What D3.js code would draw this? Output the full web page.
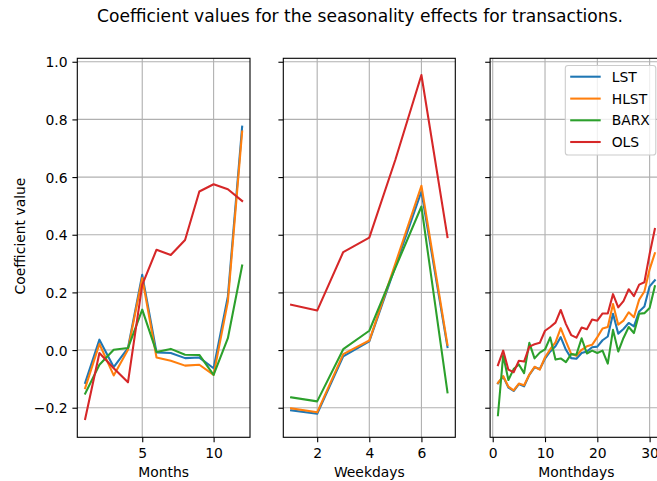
<!DOCTYPE html>
<html>
<head>
<meta charset="utf-8">
<script src="https://cdn.jsdelivr.net/npm/d3@7"></script>
<style>
  html, body { margin: 0; padding: 0; background: #ffffff; }
  svg text { font-family: "DejaVu Sans", sans-serif; fill: #000; }
</style>
</head>
<body>
<svg id="chart" width="657" height="481"></svg>
<script>
// Series names and colours
const seriesNames = ["LST", "HLST", "BARX", "OLS"];
const seriesColors = ["#1f77b4", "#ff7f0e", "#2ca02c", "#d62728"];

// Months (1..12)
const months = [1, 2, 3, 4, 5, 6, 7, 8, 9, 10, 11, 12];
const monthLST  = [-0.114, 0.036, -0.059, 0.007, 0.261, -0.008, -0.010, -0.028, -0.026, -0.063, 0.186, 0.775];
const monthHLST = [-0.132, 0.021, -0.088, 0.001, 0.250, -0.026, -0.037, -0.054, -0.051, -0.086, 0.168, 0.758];
const monthBARX = [-0.151, -0.051, 0.001, 0.007, 0.140, -0.007, 0.004, -0.016, -0.017, -0.086, 0.041, 0.293];
const monthOLS  = [-0.239, -0.010, -0.063, -0.112, 0.226, 0.348, 0.330, 0.382, 0.550, 0.575, 0.558, 0.517];

// Weekdays (1..7)
const weekdays = [1, 2, 3, 4, 5, 6, 7];
const weekLST  = [-0.209, -0.221, -0.022, 0.030, 0.290, 0.550, 0.010];
const weekHLST = [-0.202, -0.216, -0.014, 0.033, 0.300, 0.570, 0.018];
const weekBARX = [-0.164, -0.178, 0.003, 0.067, 0.285, 0.498, -0.147];
const weekOLS  = [0.157, 0.137, 0.340, 0.390, 0.660, 0.954, 0.392];

// Days of month (1..31)
const monthdays = [1, 2, 3, 4, 5, 6, 7, 8, 9, 10, 11, 12, 13, 14, 15, 16,
                   17, 18, 19, 20, 21, 22, 23, 24, 25, 26, 27, 28, 29, 30, 31];
const dayLST  = [-0.115, -0.092, -0.130, -0.142, -0.118, -0.126, -0.086, -0.060, -0.066, -0.030, -0.005,
                 0.013, 0.045, 0.001, -0.028, -0.030, -0.010, -0.005, 0.010, 0.012, 0.034,
                 0.047, 0.126, 0.057, 0.073, 0.094, 0.082, 0.134, 0.151, 0.221, 0.242];
const dayHLST = [-0.114, -0.090, -0.127, -0.140, -0.116, -0.122, -0.085, -0.058, -0.068, -0.025, 0.003,
                 0.027, 0.076, 0.030, -0.013, -0.020, 0.001, 0.013, 0.018, 0.045, 0.075,
                 0.080, 0.160, 0.088, 0.102, 0.131, 0.114, 0.175, 0.203, 0.280, 0.336];
const dayBARX = [-0.226, -0.018, -0.104, -0.066, -0.050, -0.080, 0.025, -0.029, -0.009, 0.002, 0.044,
                 -0.033, -0.029, -0.042, -0.014, -0.016, 0.041, -0.012, -0.002, -0.010, -0.002,
                 -0.047, 0.070, -0.005, 0.042, 0.080, 0.059, 0.126, 0.128, 0.146, 0.221];
const dayOLS  = [-0.052, -0.002, -0.068, -0.077, -0.037, -0.040, 0.012, 0.020, 0.025, 0.067, 0.080,
                 0.095, 0.139, 0.090, 0.052, 0.043, 0.078, 0.072, 0.106, 0.102, 0.127,
                 0.127, 0.194, 0.148, 0.170, 0.211, 0.187, 0.227, 0.235, 0.333, 0.420];

// Tick values
const yTicks = [-0.2, 0.0, 0.2, 0.4, 0.6, 0.8, 1.0];
const monthTicks = [5, 10];
const weekTicks = [2, 4, 6];
const dayTicks = [0, 10, 20, 30];

const titleText = "Coefficient values for the seasonality effects for transactions.";
const yLabel = "Coefficient value";

const svg = d3.select("#chart");
const FONT = 13.9;

// Shared vertical scale
const plotTop = 58.3, plotBottom = 437.3;
const y = d3.scaleLinear().domain([-0.3026, 1.012]).range([plotBottom, plotTop]);

const panels = [
  { x: months, series: [monthLST, monthHLST, monthBARX, monthOLS], domain: [0.45, 12.55],
    left: 77.3, right: 250.0, ticks: monthTicks, label: "Months", yLabels: true },
  { x: weekdays, series: [weekLST, weekHLST, weekBARX, weekOLS], domain: [0.7, 7.3],
    left: 283.3, right: 455.3, ticks: weekTicks, label: "Weekdays", yLabels: false },
  { x: monthdays, series: [dayLST, dayHLST, dayBARX, dayOLS], domain: [-0.5, 32.5],
    left: 490.1, right: 662.7, ticks: dayTicks, label: "Monthdays", yLabels: false }
];

panels.forEach((p, pi) => {
  const x = d3.scaleLinear().domain(p.domain).range([p.left, p.right]);
  const g = svg.append("g");

  const clipId = "clip" + pi;
  svg.append("clipPath").attr("id", clipId)
    .append("rect")
    .attr("x", p.left).attr("y", plotTop)
    .attr("width", p.right - p.left).attr("height", plotBottom - plotTop);

  // grid
  const grid = g.append("g").attr("stroke", "#b0b0b0").attr("stroke-width", 1.1);
  p.ticks.forEach(t => {
    grid.append("line").attr("x1", x(t)).attr("x2", x(t))
      .attr("y1", plotTop).attr("y2", plotBottom);
  });
  yTicks.forEach(t => {
    grid.append("line").attr("x1", p.left).attr("x2", p.right)
      .attr("y1", y(t)).attr("y2", y(t));
  });

  // lines
  const line = d3.line().x((d, i) => x(p.x[i])).y(d => y(d));
  const lines = g.append("g").attr("clip-path", `url(#${clipId})`);
  p.series.forEach((vals, si) => {
    lines.append("path").datum(vals)
      .attr("d", line)
      .attr("fill", "none")
      .attr("stroke", seriesColors[si])
      .attr("stroke-width", 2.08)
      .attr("stroke-linejoin", "round")
      .attr("stroke-linecap", "square");
  });

  // frame
  g.append("rect")
    .attr("x", p.left).attr("y", plotTop)
    .attr("width", p.right - p.left).attr("height", plotBottom - plotTop)
    .attr("fill", "none").attr("stroke", "#000").attr("stroke-width", 1.1);

  // x axis
  const xAxis = d3.axisBottom(x).tickValues(p.ticks).tickSize(4.9).tickPadding(3.5)
    .tickFormat(d3.format("d"));
  const xg = g.append("g").attr("transform", `translate(0,${plotBottom})`).call(xAxis);
  xg.select(".domain").remove();
  xg.selectAll(".tick line").attr("stroke", "#000").attr("stroke-width", 1.1);
  xg.selectAll(".tick text").attr("font-size", FONT).attr("font-family", "DejaVu Sans")
    .attr("fill", "#000").attr("dy", null).attr("y", 20.5);

  g.append("text")
    .attr("x", (p.left + p.right) / 2).attr("y", 477)
    .attr("text-anchor", "middle").attr("font-size", FONT)
    .text(p.label);

  // y axis
  const yAxis = d3.axisLeft(y).tickValues(yTicks).tickSize(4.9).tickPadding(4.9)
    .tickFormat(p.yLabels ? (d => d3.format(".1f")(d).replace("-", "\u2212")) : "");
  const yg = g.append("g").attr("transform", `translate(${p.left},0)`).call(yAxis);
  yg.select(".domain").remove();
  yg.selectAll(".tick line").attr("stroke", "#000").attr("stroke-width", 1.1);
  yg.selectAll(".tick text").attr("font-size", FONT).attr("font-family", "DejaVu Sans")
    .attr("fill", "#000").attr("dy", "0.36em");

  // legend in last panel
  if (pi === 2) {
    const lx = 565.3, ly = 65.5, lw = 90.5, lh = 89.5;
    const leg = svg.append("g");
    leg.append("rect").attr("x", lx).attr("y", ly).attr("width", lw).attr("height", lh)
      .attr("rx", 2.8).attr("ry", 2.8)
      .attr("fill", "#ffffff").attr("fill-opacity", 0.8)
      .attr("stroke", "#cccccc").attr("stroke-width", 1.1);
    const rowY = [76.7, 98.6, 120.3, 142.0];
    seriesNames.forEach((name, i) => {
      leg.append("line").attr("x1", 570.2).attr("x2", 600.7)
        .attr("y1", rowY[i]).attr("y2", rowY[i])
        .attr("stroke", seriesColors[i]).attr("stroke-width", 2.08);
      leg.append("text").attr("x", 611.7).attr("y", rowY[i]).attr("dy", "0.36em")
        .attr("font-size", FONT).text(name);
    });
  }
});

// y label
svg.append("text")
  .attr("transform", "translate(25,236) rotate(-90)")
  .attr("text-anchor", "middle").attr("font-size", FONT)
  .text(yLabel);

// title
svg.append("text")
  .attr("x", 360).attr("y", 21.5)
  .attr("text-anchor", "middle").attr("font-size", 17.1)
  .text(titleText);
</script>
</body>
</html>
